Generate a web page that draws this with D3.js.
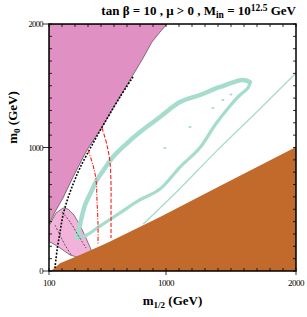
<!DOCTYPE html>
<html>
<head>
<meta charset="utf-8">
<script src="https://cdn.jsdelivr.net/npm/d3@7/dist/d3.min.js"></script>
<style>
  body { margin: 0; background: #fff; }
  svg { display: block; font-family: "Liberation Serif", "DejaVu Serif", serif; }
</style>
</head>
<body>
<div id="chart"></div>
<script>
// axes
var xDomain = [100, 2000];
var yDomain = [0, 2000];
var xTickLabels = [100, 1000, 2000];
var yTickLabels = [0, 1000, 2000];

// regions, [m1/2, m0] in GeV
var chargedLsp = [[1008, 2000], [954, 1935], [892, 1854], [815, 1708], [723, 1547], [608, 1344],
  [508, 1166], [392, 980], [285, 761], [208, 591], [146, 478], [108, 397], [100, 381], [100, 2000]];
var lightPink = [[100, 364], [154, 470], [208, 510], [246, 502], [292, 453], [338, 372], [385, 267],
  [431, 154], [377, 138], [315, 113], [262, 130], [185, 186], [123, 227], [100, 235]];
var brownRegion = [[115, 0], [185, 62], [338, 130], [546, 227], [954, 437], [1400, 680],
  [2000, 1004], [2000, 0]];

// relic density bands
var relicOuter = [[315, 267], [338, 372], [377, 534], [431, 656], [469, 737], [531, 834], [592, 923],
  [685, 1020], [800, 1125], [954, 1247], [1108, 1368], [1261, 1425], [1415, 1490], [1592, 1547], [1646, 1530]];
var relicInner = [[1646, 1530], [1631, 1482], [1569, 1425], [1492, 1336], [1377, 1182], [1261, 998],
  [1108, 842], [954, 664], [785, 567], [646, 470], [492, 364], [377, 283], [315, 267]];
var relicThin = [[823, 378], [1100, 660], [1392, 975], [1700, 1290], [2000, 1603]];
var relicSpecks = [[1438, 1385], [1361, 1320], [1185, 1166], [992, 996], [1500, 1430]];

// contours
var blackDotted = [[746, 1571], [646, 1409], [531, 1206], [431, 1020], [338, 834], [292, 721],
  [246, 591], [208, 453], [185, 316], [162, 170], [146, 24]];
var blackDashA = [[200, 478], [262, 397], [323, 291], [385, 186]];
var blackDashB = [[146, 372], [185, 290], [223, 211], [277, 121]];
var redDashDot = [[400, 980], [438, 858], [462, 737], [469, 575], [477, 372], [477, 211]];
var redDashed = [[508, 1158], [546, 1020], [569, 883], [577, 696], [577, 494], [577, 267]];

var W = 307, H = 317;
var margin = {left: 49, top: 24, right: 11, bottom: 46};
var pw = W - margin.left - margin.right, ph = H - margin.top - margin.bottom;

var svg = d3.select('#chart').append('svg').attr('width', W).attr('height', H);
var g = svg.append('g').attr('transform', 'translate(' + margin.left + ',' + margin.top + ')');

var x = d3.scaleLinear().domain(xDomain).range([0, pw]);
var y = d3.scaleLinear().domain(yDomain).range([ph, 0]);

svg.append('defs').append('clipPath').attr('id', 'clip')
  .append('rect').attr('width', pw).attr('height', ph);

var plot = g.append('g').attr('clip-path', 'url(#clip)');

var poly = d3.line().x(function(d) { return x(d[0]); }).y(function(d) { return y(d[1]); })
  .curve(d3.curveLinearClosed);
var smooth = d3.line().x(function(d) { return x(d[0]); }).y(function(d) { return y(d[1]); })
  .curve(d3.curveCatmullRom);

plot.append('path').attr('d', poly(chargedLsp)).attr('fill', '#e190c3')
  .attr('stroke', '#333').attr('stroke-width', 0.6);
plot.append('path').attr('d', poly(lightPink)).attr('fill', '#f2b3da')
  .attr('stroke', '#333').attr('stroke-width', 0.6);

plot.append('path').attr('d', smooth(relicOuter)).attr('fill', 'none')
  .attr('stroke', '#a6dccd').attr('stroke-width', 4.5).attr('stroke-linecap', 'round');
plot.append('path').attr('d', smooth(relicInner)).attr('fill', 'none')
  .attr('stroke', '#a6dccd').attr('stroke-width', 3.2).attr('stroke-linecap', 'round');
plot.append('path').attr('d', smooth(relicThin)).attr('fill', 'none')
  .attr('stroke', '#a6dccd').attr('stroke-width', 1.3);
plot.selectAll('ellipse.speck').data(relicSpecks).enter().append('ellipse')
  .attr('class', 'speck')
  .attr('cx', function(d) { return x(d[0]); }).attr('cy', function(d) { return y(d[1]); })
  .attr('rx', 1.6).attr('ry', 1).attr('fill', '#a6dccd');

plot.append('path').attr('d', poly(brownRegion)).attr('fill', '#c2692c');

plot.append('path').attr('d', smooth(blackDotted)).attr('fill', 'none')
  .attr('stroke', '#000').attr('stroke-width', 1.6).attr('stroke-dasharray', '1.8,1.6');
[blackDashA, blackDashB].forEach(function(c) {
  plot.append('path').attr('d', smooth(c)).attr('fill', 'none')
    .attr('stroke', '#222').attr('stroke-width', 0.7).attr('stroke-dasharray', '2,1.5');
});
plot.append('path').attr('d', smooth(redDashDot)).attr('fill', 'none')
  .attr('stroke', '#ff1a1a').attr('stroke-width', 1.1).attr('stroke-dasharray', '4,1.5,1,1.5');
plot.append('path').attr('d', smooth(redDashed)).attr('fill', 'none')
  .attr('stroke', '#ff1a1a').attr('stroke-width', 1.1).attr('stroke-dasharray', '4,2');

// frame and ticks
g.append('rect').attr('width', pw).attr('height', ph).attr('fill', 'none')
  .attr('stroke', '#000').attr('stroke-width', 1.5);

var xt = d3.range(100, 2001, 100), yt = d3.range(0, 2001, 100);
var ticks = g.append('g').attr('stroke', '#000').attr('stroke-width', 0.8);
xt.forEach(function(v) {
  ticks.append('line').attr('x1', x(v)).attr('x2', x(v)).attr('y1', ph).attr('y2', ph - 3);
  ticks.append('line').attr('x1', x(v)).attr('x2', x(v)).attr('y1', 0).attr('y2', 3);
});
yt.forEach(function(v) {
  ticks.append('line').attr('y1', y(v)).attr('y2', y(v)).attr('x1', 0).attr('x2', 3);
  ticks.append('line').attr('y1', y(v)).attr('y2', y(v)).attr('x1', pw).attr('x2', pw - 3);
});
xTickLabels.forEach(function(v) {
  ticks.append('line').attr('x1', x(v)).attr('x2', x(v)).attr('y1', ph).attr('y2', ph + 4);
  g.append('text').attr('x', x(v)).attr('y', ph + 15).attr('text-anchor', 'middle')
    .attr('font-size', 9).attr('letter-spacing', -0.5).text(v);
});
yTickLabels.forEach(function(v) {
  ticks.append('line').attr('y1', y(v)).attr('y2', y(v)).attr('x1', 0).attr('x2', -6);
  g.append('text').attr('x', -6).attr('y', y(v) + 3).attr('text-anchor', 'end')
    .attr('font-size', 8.5).attr('letter-spacing', -0.6).text(v);
});

// axis titles
var xl = svg.append('text').attr('x', margin.left + pw / 2).attr('y', 305)
  .attr('text-anchor', 'middle').attr('font-size', 13).attr('font-weight', 'bold');
xl.append('tspan').text('m');
xl.append('tspan').attr('font-size', 9).attr('dy', 3).text('1/2');
xl.append('tspan').attr('dy', -3).text(' (GeV)');

var yl = svg.append('text').attr('transform', 'translate(17,' + (margin.top + ph / 2 - 30) + ') rotate(-90)')
  .attr('text-anchor', 'middle').attr('font-size', 13).attr('font-weight', 'bold');
yl.append('tspan').text('m');
yl.append('tspan').attr('font-size', 9).attr('dy', 3).text('0');
yl.append('tspan').attr('dy', -3).text(' (GeV)');

var title = svg.append('text').attr('x', margin.left + pw).attr('y', 15)
  .attr('text-anchor', 'end').attr('font-size', 13).attr('font-weight', 'bold');
title.append('tspan').text('tan \u03b2 = 10 ,  \u03bc > 0 , M');
title.append('tspan').attr('font-size', 9.5).attr('dy', 3).text('in');
title.append('tspan').attr('dy', -3).text(' = 10');
title.append('tspan').attr('font-size', 9.5).attr('dy', -4.5).text('12.5');
title.append('tspan').attr('dy', 4.5).text(' GeV');
</script>
</body>
</html>
